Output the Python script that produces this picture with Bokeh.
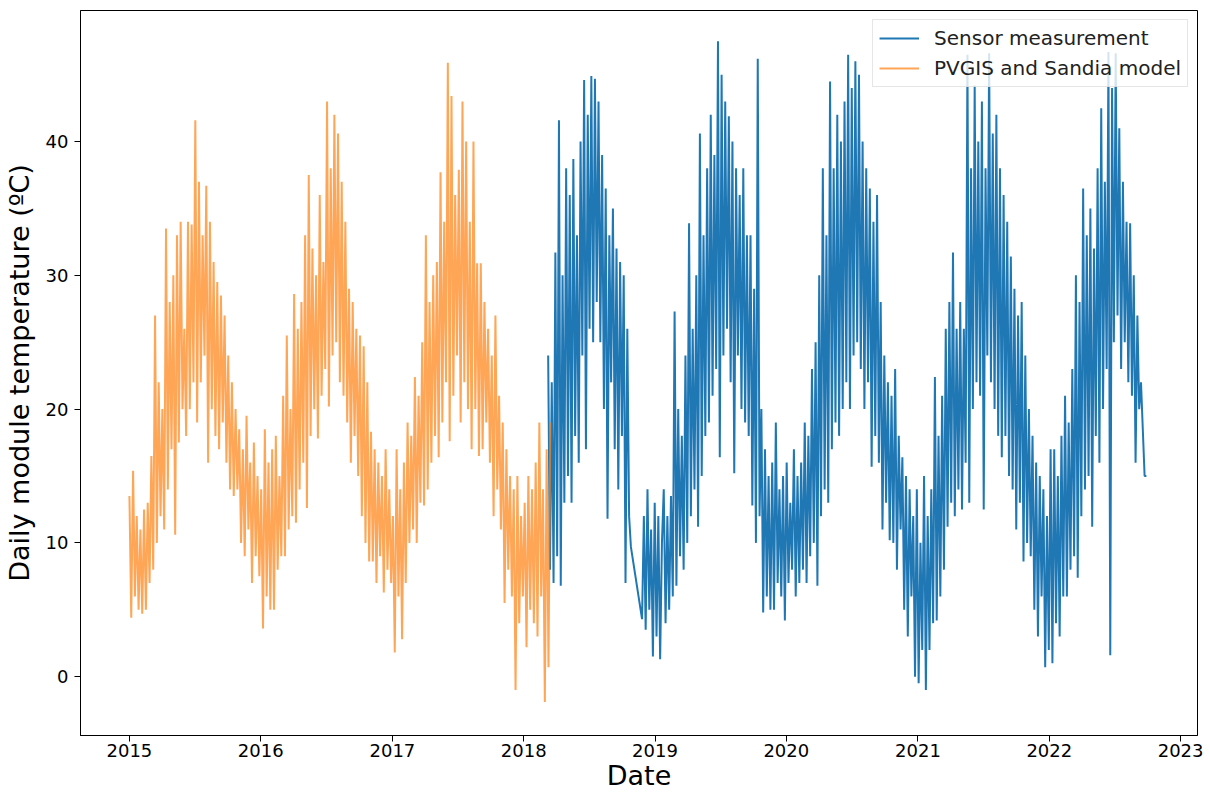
import pandas as pd
from bokeh.plotting import figure
from bokeh.models import Range1d, FixedTicker, DatetimeTickFormatter, Legend, LegendItem
from bokeh.embed import file_html
from bokeh.resources import INLINE

# ---------------- data (~5-day resolution) ----------------
model_start = "2015-01-01"
model_end = "2018-03-16"
model_temp = [
    # 2015
    13.5, 4.4, 15.4, 6, 12, 5,
    11, 4.7, 12.5, 5, 13, 7,
    16.5, 8, 27, 10, 22, 12,
    20, 11, 33.5, 14, 28, 17,
    30, 10.6, 33, 17.5, 34, 20,
    26, 18, 34, 20, 33.8, 22,
    41.6, 19, 37, 22, 33, 24,
    36.7, 16, 34, 20, 31, 18,
    29.5, 17, 28.5, 19, 27, 16,
    24, 14, 22, 13.5, 20, 14,
    18.5, 10, 17, 9, 19.5, 11,
    16, 7, 17.5, 9, 15, 7.5,
    # 2016
    14, 3.6, 18.5, 6, 16, 5,
    17, 5, 18, 8, 15, 9,
    21, 9, 25.5, 11, 20, 12,
    28.6, 11.5, 26, 14, 28, 16,
    33, 12.6, 37.5, 18, 32, 20,
    30, 17.8, 36, 21, 31, 23,
    43, 20.2, 38, 24, 42, 25,
    40.6, 22, 37, 21, 34, 19,
    29, 16, 28, 18, 26, 15,
    25.5, 12, 24.7, 10, 22, 8.6,
    18.3, 8.6, 17, 7, 16, 9,
    15, 6.3, 17, 8, 14, 7,
    # 2017
    12, 1.8, 17, 6, 14, 2.8,
    16, 7, 19, 10, 18, 11,
    22.4, 10, 21, 13, 25, 12.8,
    33, 14, 28, 16, 30, 18,
    31, 16.4, 37.7, 19, 34, 22,
    45.9, 17.6, 43.4, 21, 36, 24,
    37.9, 19, 43, 22, 40, 20,
    34, 17, 40, 20, 30.9, 16.5,
    30.9, 17, 28, 19, 26, 16,
    24, 12, 27, 14, 21, 11,
    19, 5.5, 17, 8, 15, 6,
    14, -1, 15, 4, 12, 6,
    # 2018
    13, 2.2, 15, 5, 14, 4,
    16, 3, 19, 6, 14, -1.9,
    17, 0.7, 19,
]

sensor_a_start = "2018-03-10"
sensor_a_end = "2018-10-26"
sensor_a_temp = [
    24, 8, 22, 7, 31.7, 9,
    41.6, 6.8, 30, 13, 38, 15,
    36, 13, 38.7, 18, 33, 16,
    40, 24, 44.6, 17, 42, 26,
    44.9, 25, 44.7, 28, 43, 25,
    39, 20, 36.5, 11.8, 33, 22,
    35, 17, 32, 14, 31, 18,
    30, 7, 26, 12, 9.7,
]

sensor_b_start = "2018-11-26"
sensor_b_end = "2022-09-28"
sensor_b_temp = [
    4.3, 12, 3.5, 14, 5, 11,
    1.5, 13, 3, 12, 1.3, 10,
    14, 4, 12, 5, 13.5, 6,
    27.3, 6.8, 20, 9, 18, 8,
    24, 10, 33.9, 12, 26, 14,
    30, 11.2, 40.6, 15, 33, 18,
    38, 19, 42, 21, 39, 23,
    47.5, 16.4, 45, 24, 43, 26,
    41.9, 22, 40, 15.2, 38, 24,
    36, 20, 38, 19, 33, 18,
    33, 12.8, 29, 10, 46.2, 12,
    20, 4.8, 17, 6, 15, 5,
    16, 5, 19, 7, 14, 6,
    15, 4.2, 16, 7, 13, 8,
    17, 6, 15, 7, 16, 8,
    19, 7, 18, 9, 23, 10,
    25, 6.8, 30, 12, 38, 14,
    33, 13, 44.5, 17, 38, 19,
    42, 18, 40, 20, 43, 22,
    46.5, 20, 44, 24, 46, 25,
    45, 23, 40, 20, 38, 22,
    36.5, 15.7, 34, 18, 36, 16,
    28, 11, 24, 13, 22, 10.2,
    21, 10, 23, 8, 18, 11,
    16.4, 5, 15, 3, 14, 6,
    12, 0, 14, -0.5, 10, 2,
    15, -1, 12, 2, 14, 4,
    22.4, 4.2, 18, 6, 21, 8,
    26, 11.2, 28, 13, 31.7, 12,
    26, 14, 28, 12.5, 26, 16,
    46.5, 13, 38, 20, 44.2, 22,
    40, 21, 43, 12.5, 38, 24,
    46.6, 22, 40.6, 20, 42, 18,
    38, 16.4, 36, 18, 34, 15,
    31.4, 14, 29, 11, 27, 13,
    28, 8.6, 24, 10, 20, 9,
    18, 5, 16, 3, 15, 6,
    14, 0.7, 12, 2, 17, 1,
    17, 4, 15, 3, 18, 6,
    21, 6, 19, 8, 23, 9,
    30, 7.4, 28, 12, 36.5, 14,
    33, 15, 35, 11.2, 32, 18,
    38, 16, 42.5, 20, 37, 23,
    46.7, 1.6, 44, 25, 46.6, 27,
    41, 23, 37, 25, 34, 22,
    33.9, 21, 30, 16, 27, 20,
    22, 18.5, 15, 15,
]

tick_years = [2015, 2016, 2017, 2018, 2019, 2020, 2021, 2022, 2023]
y_ticks = [0, 10, 20, 30, 40]

# ---------------- build ----------------
model_dates = pd.date_range(model_start, model_end, periods=len(model_temp))
sa_dates = pd.date_range(sensor_a_start, sensor_a_end, periods=len(sensor_a_temp))
sb_dates = pd.date_range(sensor_b_start, sensor_b_end, periods=len(sensor_b_temp))
sensor_dates = list(sa_dates) + list(sb_dates)
sensor_temp = sensor_a_temp + sensor_b_temp

FONT = "DejaVu Sans"

p = figure(width=1210, height=794, x_axis_type="datetime",
           output_backend="svg", toolbar_location=None,
           min_border_left=80, min_border_right=13,
           min_border_top=10, min_border_bottom=59,
           x_range=Range1d(pd.Timestamp("2014-08-18"), pd.Timestamp("2023-02-17")),
           y_range=Range1d(-4.4, 49.8))

r_sensor = p.line(sensor_dates, sensor_temp, line_color="#1f77b4", line_width=2)
r_model = p.line(model_dates, model_temp, line_color="#ff7f0e", line_alpha=0.7, line_width=2)

p.xaxis.ticker = FixedTicker(ticks=[pd.Timestamp(f"{y}-01-01").value // 10**6 for y in tick_years])
p.xaxis.formatter = DatetimeTickFormatter(years="%Y", months="%Y", days="%Y", hours="%Y")
p.yaxis.ticker = FixedTicker(ticks=y_ticks)

p.xaxis.axis_label = "Date"
p.yaxis.axis_label = "Daily module temperature (ºC)"

for ax in p.axis:
    ax.axis_label_text_font = FONT
    ax.axis_label_text_font_size = "27px"
    ax.axis_label_text_font_style = "normal"
    ax.axis_label_text_color = "black"
    ax.major_label_text_font = FONT
    ax.major_label_text_font_size = "18px"
    ax.major_label_text_color = "black"
    ax.minor_tick_line_color = None
    ax.major_tick_in = 0
    ax.major_tick_out = 6
    ax.major_tick_line_color = "black"
    ax.axis_line_color = "black"

p.xaxis.major_label_standoff = 2
p.xaxis.axis_label_standoff = 0
p.yaxis.major_label_standoff = 6
p.yaxis.axis_label_standoff = 8

p.grid.grid_line_color = None
p.outline_line_color = "black"
p.outline_line_width = 1

legend = Legend(items=[
    LegendItem(label="Sensor measurement", renderers=[r_sensor]),
    LegendItem(label="PVGIS and Sandia model", renderers=[r_model]),
], location="top_right")
legend.label_text_font = FONT
legend.label_text_font_size = "20px"
legend.label_text_color = "#222222"
legend.glyph_width = 40
legend.glyph_height = 20
legend.label_height = 20
legend.label_standoff = 15
legend.padding = 6
legend.spacing = 6
legend.margin = 9
legend.border_line_color = "#cccccc"
legend.border_line_width = 1
legend.background_fill_alpha = 0.8
p.add_layout(legend)

open("out.html", "w").write(file_html(p, INLINE))
